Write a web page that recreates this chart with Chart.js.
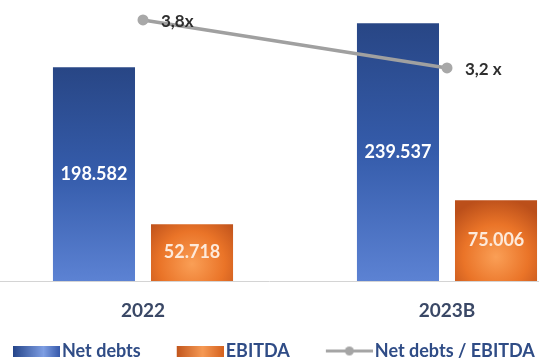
<!DOCTYPE html>
<html>
<head>
<meta charset="utf-8">
<script src="https://cdn.jsdelivr.net/npm/chart.js@4"></script>
<style>
  html, body { margin: 0; padding: 0; background: #fff; overflow: hidden; }
</style>
</head>
<body>
<canvas id="chart" width="539" height="360"></canvas>
<script>
const FONT = 'Lato, "Open Sans", sans-serif';

const years = ['2022', '2023B'];
const seriesNames = ['Net debts', 'EBITDA', 'Net debts / EBITDA'];
const netDebts = [198582, 239537];
const ebitda = [52718, 75006];
const leverage = [3.8, 3.2];
const leverageText = ['3,8x', '3,2 x'];
const debtAxisMax = 256000;
const leverageMin = 0.54;
const leverageMax = 3.98;

// legend icon slot (pointStyleWidth) and the drawn icon size
const ICON_SLOT = 72;
const ICON_W = 47;
const ICON_H = 11;

const dotted = (v) => String(v).replace(/\B(?=(\d{3})+(?!\d))/g, '.');

// vertical blue shade, dark on top
function debtFill(ctx) {
  const chart = ctx.chart;
  if (!chart.chartArea || ctx.raw == null) return '#3a60b0';
  const y = chart.scales.y;
  const top = y.getPixelForValue(ctx.raw);
  const base = y.getPixelForValue(0);
  const g = chart.ctx.createLinearGradient(0, top, 0, base);
  g.addColorStop(0, '#284685');
  g.addColorStop(0.5, '#355cab');
  g.addColorStop(1, '#5c82d3');
  return g;
}

// orange with a glow low in the middle and darker edges
// (needs the bar's x, so it is only right from the second update on)
function ebitdaFill(ctx) {
  const chart = ctx.chart;
  const el = ctx.element;
  if (!chart.chartArea || !el || !Number.isFinite(el.x) || !el.width) return '#e2691f';
  const y = chart.scales.y;
  const top = y.getPixelForValue(ctx.raw);
  const base = y.getPixelForValue(0);
  const h = base - top;
  const cy = base - h * 0.3;
  const g = chart.ctx.createRadialGradient(el.x, cy, 0, el.x, cy, Math.max(el.width, h) * 0.72);
  g.addColorStop(0, '#fa9f56');
  g.addColorStop(0.55, '#ea7428');
  g.addColorStop(1, '#bb4f1a');
  return g;
}

function legendIcon(paint) {
  const c = document.createElement('canvas');
  c.width = ICON_SLOT + 14;
  c.height = ICON_H;
  paint(c.getContext('2d'), c.width - ICON_W);
  return c;
}

const legendIcons = [
  legendIcon((g, x0) => {
    const gr = g.createLinearGradient(x0, 0, x0 + ICON_W, 0);
    gr.addColorStop(0, '#25458a');
    gr.addColorStop(0.65, '#7e9ee3');
    gr.addColorStop(1, '#3659aa');
    g.fillStyle = gr;
    g.fillRect(x0, 0, ICON_W, ICON_H);
  }),
  legendIcon((g, x0) => {
    const gr = g.createLinearGradient(x0, 0, x0 + ICON_W, 0);
    gr.addColorStop(0, '#c2561d');
    gr.addColorStop(0.55, '#f69a55');
    gr.addColorStop(1, '#d5621f');
    g.fillStyle = gr;
    g.fillRect(x0, 0, ICON_W, ICON_H);
  }),
  legendIcon((g, x0) => {
    g.strokeStyle = '#a5a5a5';
    g.lineWidth = 3;
    g.beginPath();
    g.moveTo(x0, ICON_H / 2);
    g.lineTo(x0 + ICON_W, ICON_H / 2);
    g.stroke();
    g.fillStyle = '#a5a5a5';
    g.beginPath();
    g.arc(x0 + ICON_W / 2, ICON_H / 2, 4.5, 0, Math.PI * 2);
    g.fill();
  }),
];

// light rule under the bars, across the whole canvas
const baseline = {
  id: 'baseline',
  beforeDatasetsDraw(chart) {
    const y = Math.round(chart.scales.y.getPixelForValue(0)) + 0.5;
    const c = chart.ctx;
    c.save();
    c.strokeStyle = '#d4d4d4';
    c.lineWidth = 1;
    c.beginPath();
    c.moveTo(0, y);
    c.lineTo(chart.width, y);
    c.stroke();
    c.restore();
  },
};

const labelColors = ['#ffffff', '#fdeadb'];

const valueLabels = {
  id: 'valueLabels',
  afterDatasetsDraw(chart) {
    const c = chart.ctx;
    c.save();
    c.textBaseline = 'middle';
    chart.data.datasets.forEach((ds, i) => {
      chart.getDatasetMeta(i).data.forEach((el, j) => {
        if (ds.type === 'line') {
          c.font = `bold 17px ${FONT}`;
          c.fillStyle = '#2e2e2e';
          c.textAlign = 'left';
          c.fillText(leverageText[j], el.x + 18, el.y + 2);
        } else {
          c.font = `bold 18px ${FONT}`;
          c.fillStyle = labelColors[i];
          c.textAlign = 'center';
          c.fillText(dotted(ds.data[j]), el.x, (el.y + el.base) / 2);
        }
      });
    });
    c.restore();
  },
};

const hiddenAxis = {
  ticks: { display: false },
  grid: { display: false },
  border: { display: false },
};

const chart = new Chart(document.getElementById('chart'), {
  type: 'bar',
  data: {
    labels: years,
    datasets: [
      {
        type: 'bar',
        label: seriesNames[0],
        data: netDebts,
        backgroundColor: debtFill,
        yAxisID: 'y',
        order: 1,
        clip: false,
        categoryPercentage: 0.645,
        barPercentage: 0.837,
      },
      {
        type: 'bar',
        label: seriesNames[1],
        data: ebitda,
        backgroundColor: ebitdaFill,
        yAxisID: 'y',
        order: 1,
        clip: false,
        categoryPercentage: 0.645,
        barPercentage: 0.837,
      },
      {
        type: 'line',
        label: seriesNames[2],
        data: leverage,
        yAxisID: 'y1',
        borderColor: '#a0a0a0',
        borderWidth: 3.5,
        pointRadius: 5.5,
        pointBackgroundColor: '#a8a8a8',
        pointBorderWidth: 0,
        order: 0,
        clip: false,
      },
    ],
  },
  options: {
    responsive: false,
    animation: false,
    layout: { padding: { left: -23, right: -10, top: 0, bottom: -10 } },
    plugins: {
      tooltip: { enabled: false },
      legend: {
        position: 'bottom',
        align: 'start',
        labels: {
          usePointStyle: true,
          pointStyleWidth: ICON_SLOT,
          boxHeight: ICON_H,
          padding: 4,
          color: '#2f4c86',
          font: { family: FONT, size: 18, weight: 'bold' },
          sort: (a, b) => a.datasetIndex - b.datasetIndex,
          generateLabels: (chart) =>
            Chart.defaults.plugins.legend.labels.generateLabels(chart).map((item) => ({
              ...item,
              pointStyle: legendIcons[item.datasetIndex],
            })),
        },
      },
    },
    scales: {
      x: {
        offset: false,
        grid: { display: false, drawTicks: false },
        border: { display: false },
        ticks: {
          color: '#3a4866',
          padding: 18,
          autoSkip: false,
          maxRotation: 0,
          font: { family: FONT, size: 19, weight: 'bold' },
        },
        afterFit: (s) => { s.height = 57; },
      },
      y: {
        ...hiddenAxis,
        position: 'left',
        min: 0,
        max: debtAxisMax,
        afterFit: (s) => { s.width = 166; },
      },
      y1: {
        ...hiddenAxis,
        position: 'right',
        min: leverageMin,
        max: leverageMax,
        afterFit: (s) => { s.width = 102; },
      },
    },
  },
  plugins: [baseline, valueLabels],
});
// second pass so the bar elements already have their x for the orange shading
chart.update();
</script>
</body>
</html>
